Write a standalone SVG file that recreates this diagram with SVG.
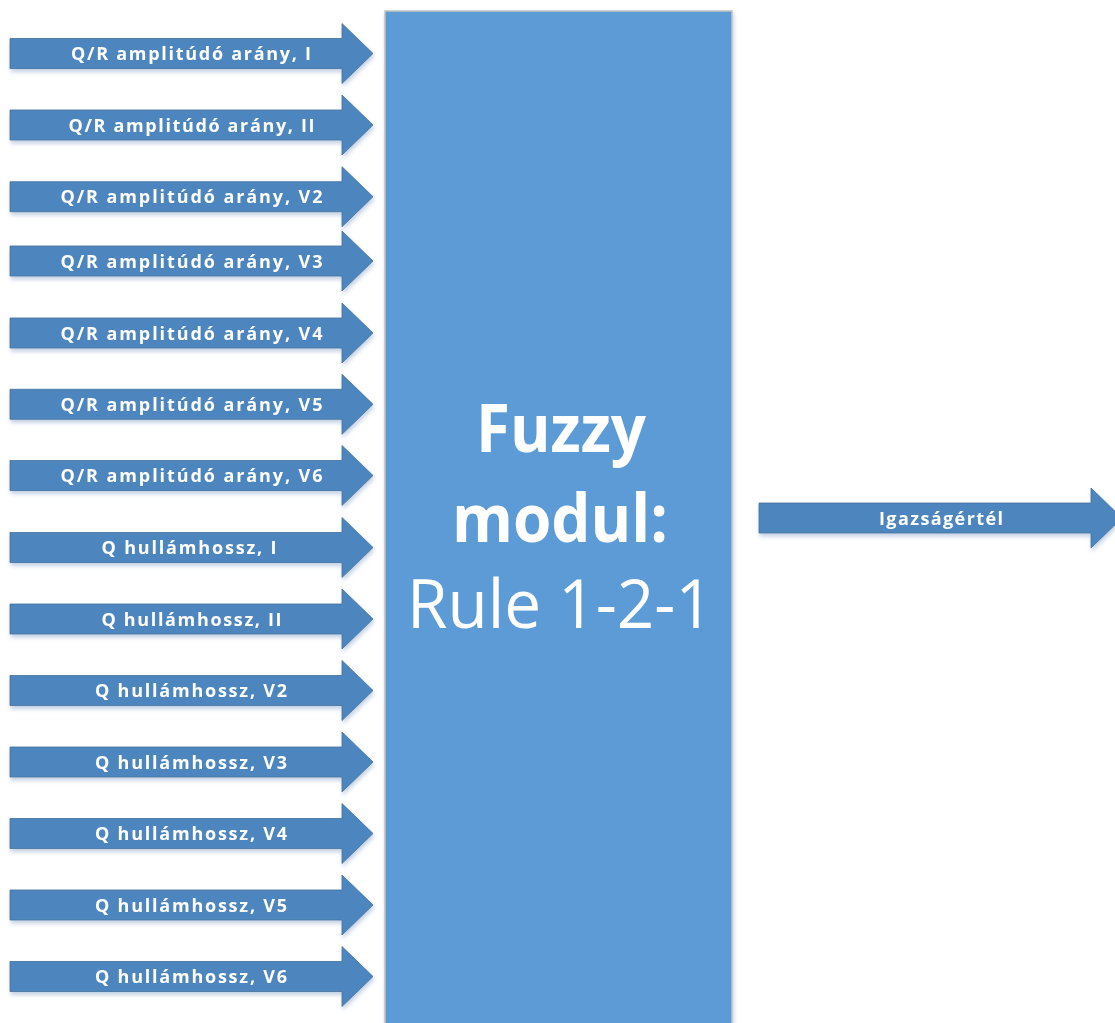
<svg xmlns="http://www.w3.org/2000/svg" xmlns:xlink="http://www.w3.org/1999/xlink" width="1115" height="1023" viewBox="0 0 1115 1023">
  <style>
    .arrow { fill: #4E86BE; stroke: #41719C; stroke-width: 0.8; }
    .lbl { font-family: "Open Sans", "Liberation Sans", sans-serif; font-weight: 700; font-size: 18px; fill: #FFFFFF; text-anchor: middle; }
    .big { font-family: "Open Sans", "Liberation Sans", sans-serif; fill: #FFFFFF; text-anchor: middle; }
  </style>
  <defs>
    <filter id="shadow" x="-5%" y="-30%" width="115%" height="170%">
      <feGaussianBlur in="SourceAlpha" stdDeviation="2.2"/>
      <feOffset dx="1" dy="3" result="blur"/>
      <feFlood flood-color="#8FA9CC" flood-opacity="0.55"/>
      <feComposite in2="blur" operator="in"/>
      <feMerge>
        <feMergeNode/>
        <feMergeNode in="SourceGraphic"/>
      </feMerge>
    </filter>
    <!-- input block arrow, centred on y = 0 -->
    <path id="inArrow" class="arrow" d="M10,-15 H342 V-30 L373,0 L342,30 V15 H10 Z"/>
  </defs>

  <rect width="1115" height="1023" fill="#FFFFFF"/>

  <!-- central fuzzy module -->
  <g id="fuzzy-module" filter="url(#shadow)">
    <rect x="385" y="11" width="347" height="1030" fill="#5B9BD5" stroke="#C4C4C4" stroke-width="1.5"/>
    <text class="big" x="561" y="452" font-size="66" font-weight="700" textLength="170" lengthAdjust="spacingAndGlyphs">Fuzzy</text>
    <text class="big" x="560" y="542" font-size="66" font-weight="700" textLength="216" lengthAdjust="spacingAndGlyphs">modul:</text>
    <text class="big" x="560" y="628" font-size="67" font-weight="400" textLength="306" lengthAdjust="spacingAndGlyphs">Rule 1-2-1</text>
  </g>

  <!-- input arrows -->
  <g id="in-qr-I" filter="url(#shadow)" transform="translate(0,53.5)">
    <use xlink:href="#inArrow"/>
    <text class="lbl" x="191" y="6.5" textLength="240" lengthAdjust="spacing">Q/R amplitúdó arány, I</text>
  </g>
  <g id="in-qr-II" filter="url(#shadow)" transform="translate(0,125)">
    <use xlink:href="#inArrow"/>
    <text class="lbl" x="191.5" y="6.5" textLength="246" lengthAdjust="spacing">Q/R amplitúdó arány, II</text>
  </g>
  <g id="in-qr-V2" filter="url(#shadow)" transform="translate(0,196.7)">
    <use xlink:href="#inArrow"/>
    <text class="lbl" x="191.5" y="6.5" textLength="262" lengthAdjust="spacing">Q/R amplitúdó arány, V2</text>
  </g>
  <g id="in-qr-V3" filter="url(#shadow)" transform="translate(0,261)">
    <use xlink:href="#inArrow"/>
    <text class="lbl" x="191.5" y="6.5" textLength="262" lengthAdjust="spacing">Q/R amplitúdó arány, V3</text>
  </g>
  <g id="in-qr-V4" filter="url(#shadow)" transform="translate(0,333)">
    <use xlink:href="#inArrow"/>
    <text class="lbl" x="191.5" y="6.5" textLength="262" lengthAdjust="spacing">Q/R amplitúdó arány, V4</text>
  </g>
  <g id="in-qr-V5" filter="url(#shadow)" transform="translate(0,404.3)">
    <use xlink:href="#inArrow"/>
    <text class="lbl" x="191.5" y="6.5" textLength="262" lengthAdjust="spacing">Q/R amplitúdó arány, V5</text>
  </g>
  <g id="in-qr-V6" filter="url(#shadow)" transform="translate(0,475.5)">
    <use xlink:href="#inArrow"/>
    <text class="lbl" x="191.5" y="6.5" textLength="262" lengthAdjust="spacing">Q/R amplitúdó arány, V6</text>
  </g>
  <g id="in-qh-I" filter="url(#shadow)" transform="translate(0,547.5)">
    <use xlink:href="#inArrow"/>
    <text class="lbl" x="189" y="6.5" textLength="175" lengthAdjust="spacing">Q hullámhossz, I</text>
  </g>
  <g id="in-qh-II" filter="url(#shadow)" transform="translate(0,619)">
    <use xlink:href="#inArrow"/>
    <text class="lbl" x="191.5" y="6.5" textLength="180" lengthAdjust="spacing">Q hullámhossz, II</text>
  </g>
  <g id="in-qh-V2" filter="url(#shadow)" transform="translate(0,690.5)">
    <use xlink:href="#inArrow"/>
    <text class="lbl" x="191" y="6.5" textLength="192" lengthAdjust="spacing">Q hullámhossz, V2</text>
  </g>
  <g id="in-qh-V3" filter="url(#shadow)" transform="translate(0,762)">
    <use xlink:href="#inArrow"/>
    <text class="lbl" x="191" y="6.5" textLength="192" lengthAdjust="spacing">Q hullámhossz, V3</text>
  </g>
  <g id="in-qh-V4" filter="url(#shadow)" transform="translate(0,833.5)">
    <use xlink:href="#inArrow"/>
    <text class="lbl" x="191" y="6.5" textLength="192" lengthAdjust="spacing">Q hullámhossz, V4</text>
  </g>
  <g id="in-qh-V5" filter="url(#shadow)" transform="translate(0,905)">
    <use xlink:href="#inArrow"/>
    <text class="lbl" x="191" y="6.5" textLength="192" lengthAdjust="spacing">Q hullámhossz, V5</text>
  </g>
  <g id="in-qh-V6" filter="url(#shadow)" transform="translate(0,976.5)">
    <use xlink:href="#inArrow"/>
    <text class="lbl" x="191" y="6.5" textLength="192" lengthAdjust="spacing">Q hullámhossz, V6</text>
  </g>

  <!-- output arrow -->
  <g id="out-truth" filter="url(#shadow)" transform="translate(0,518)">
    <path class="arrow" d="M759,-15 H1091 V-30 L1122,0 L1091,30 V15 H759 Z"/>
    <text class="lbl" x="941" y="6.5" textLength="124" lengthAdjust="spacing">Igazságértél</text>
  </g>
</svg>
